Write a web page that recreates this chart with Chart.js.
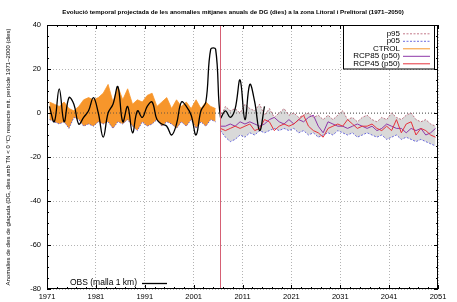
<!DOCTYPE html>
<html>
<head>
<meta charset="utf-8">
<script src="https://cdn.jsdelivr.net/npm/chart.js@4.4.1/dist/chart.umd.min.js"></script>
<style>
  html, body { margin: 0; padding: 0; background: #fff; }
  #wrap { width: 457px; height: 302px; }
</style>
</head>
<body>
<div id="wrap"><canvas id="dgChart"></canvas></div>
<script>
// Anomalies de dies de glaçada — zona Litoral i Prelitoral
const chartTitle = 'Evolució temporal projectada de les anomalies mitjanes anuals de DG (dies) a la zona Litoral i Prelitoral (1971–2050)';

const obsYears = Array.from({ length: 45 }, (_, i) => 1971 + i);   // 1971-2015
const ctrlYears = Array.from({ length: 35 }, (_, i) => 1971 + i);  // 1971-2005
const projYears = Array.from({ length: 45 }, (_, i) => 2006 + i);  // 2006-2050

const obs = [3, -4, 11, -4, 7, 4, -5, -2, 1, 7, 0, -11, 0, 4, 12, -4, 3, -9, 1, -2,
  3, 5, -3, -5, -6, -10, -5, 5, 3, -1, -10, 1, 5, 29, 29, -2, 1, -2, 2, 15, -3, 13, 5, -8, 3];

const ctrlHigh = [5, 4, 3, 5, 2, 1, 3, 6, 7, 6, 7, 9, 13, 5, 12, 6, 11, 4, 6, 5,
  8, 9, 3, 5, 7, 2, 6, 3, 5, 2, 6, 2, 5, 3, 2];
const ctrlLow = [-3, -4, -5, -4, -7, -2, -3, -6, -5, -6, -4, -5, -4, -7, -4, -5, -3, -6, -8, -4,
  -6, -5, -3, -6, -4, -5, -7, -4, -6, -3, -7, -4, -6, -3, -4];

const p95 = [-2, 3, 1, 2, 0, 4, 2, 1, 4, -1, 2, -2, 0, 2, -1, 0, -2, -1, 0, -2,
  -1, -3, -1, -3, -1, 1, -3, -2, -4, -2, -1, -3, -4, -2, -3, 0, -2, -3, -1, 0, -3, -4, -3, -5, -6];
const p05 = [-8, -11, -13, -12, -10, -11, -9, -10, -8, -9, -8, -7, -8, -7, -8, -7, -9, -8, -10, -9,
  -11, -10, -9, -10, -8, -9, -10, -9, -11, -10, -9, -10, -11, -10, -12, -11, -10, -12, -11, -12, -13, -12, -13, -14, -15];
const rcp85 = [-6, -6, -5, -6, -4, -5, -4, -5, -6, -5, -3, -2, -4, -5, -3, -5, -3, -4, -2, -1,
  -6, -9, -4, -5, -6, -6, -7, -6, -5, -6, -7, -6, -8, -7, -5, -6, -7, -7, -9, -7, -8, -7, -10, -9, -7];
const rcp45 = [-7, -8, -7, -6, -7, -6, -5, -8, -7, -3, -4, -8, -6, -5, -6, -5, -3, -1, -6, -8,
  -9, -11, -7, -6, -5, -6, -3, -5, -7, -6, -6, -5, -7, -8, -6, -8, -3, -9, -5, -4, -10, -7, -8, -10, -11];

const xTicks = [1971, 1981, 1991, 2001, 2011, 2021, 2031, 2041, 2051];
const yTicks = [40, 20, 0, -20, -40, -60, -80];
const splitYear = 2006.5;

const colors = {
  obs: '#000000', ctrl: '#f7962b', p95: '#b4566a', p05: '#4848d8',
  rcp85: '#8e37a8', rcp45: '#e6323c', band: '#d9d9d9', split: 'rgb(214, 96, 116)',
  grid: '#a0a0a0', zero: '#444444'
};

Chart.defaults.font.family = "'Liberation Sans', Arial, Helvetica, sans-serif";
Chart.defaults.color = '#000';

// mid-year placement
const pts = (years, vals) => vals.map((v, i) => ({ x: years[i] + 0.5, y: v }));

const legendRows = ['p95', 'p05', 'CTROL', 'RCP85 (p50)', 'RCP45 (p50)'];

// gnuplot-like frame, inward ticks, split line, title and legends
const gnuplotFrame = {
  id: 'gnuplotFrame',
  beforeDatasetsDraw(chart) {
    const { ctx, chartArea: a, scales: { y } } = chart;
    ctx.save();
    // zero line over fills
    ctx.strokeStyle = colors.zero;
    ctx.lineWidth = 0.8;
    ctx.setLineDash([1, 2]);
    ctx.beginPath();
    ctx.moveTo(a.left, y.getPixelForValue(0));
    ctx.lineTo(a.right, y.getPixelForValue(0));
    ctx.stroke();
    ctx.restore();
  },
  afterDatasetsDraw(chart) {
    const { ctx, chartArea: a, scales: { x, y } } = chart;
    ctx.save();

    // control / projection split
    ctx.setLineDash([]);
    ctx.strokeStyle = colors.split;
    ctx.lineWidth = 1;
    const sx = x.getPixelForValue(splitYear);
    ctx.beginPath();
    ctx.moveTo(sx, a.top);
    ctx.lineTo(sx, a.bottom);
    ctx.stroke();

    ctx.strokeStyle = '#000';
    ctx.lineWidth = 1;
    ctx.strokeRect(a.left + 0.5, a.top + 0.5, a.right - a.left - 1, a.bottom - a.top - 1);

    // ticks on all four sides, pointing in
    ctx.beginPath();
    for (let v = 1971; v <= 2051; v += 2) {
      const px = Math.round(x.getPixelForValue(v)) + 0.5;
      const len = xTicks.includes(v) ? 4 : 2;
      ctx.moveTo(px, a.bottom); ctx.lineTo(px, a.bottom - len);
      ctx.moveTo(px, a.top); ctx.lineTo(px, a.top + len);
    }
    for (let v = -80; v <= 40; v += 5) {
      const py = Math.round(y.getPixelForValue(v)) + 0.5;
      const len = yTicks.includes(v) ? 4 : 2;
      ctx.moveTo(a.left, py); ctx.lineTo(a.left + len, py);
      ctx.moveTo(a.right, py); ctx.lineTo(a.right - len, py);
    }
    ctx.stroke();

    // title
    ctx.fillStyle = '#000';
    ctx.font = "bold 6.2px 'Liberation Sans', Arial, sans-serif";
    ctx.textAlign = 'center';
    ctx.textBaseline = 'middle';
    ctx.fillText(chartTitle, 233, 12.5);

    // main legend box (top right)
    const boxL = a.right - 95, boxR = a.right - 4, boxT = a.top, rowH = 7.5;
    const boxB = boxT + 8 + rowH * legendRows.length - 2;
    ctx.fillStyle = '#fff';
    ctx.fillRect(boxL, boxT, boxR - boxL, boxB - boxT);
    ctx.strokeRect(boxL + 0.5, boxT + 0.5, boxR - boxL, boxB - boxT);
    ctx.font = "8px 'Liberation Sans', Arial, sans-serif";
    ctx.textAlign = 'right';
    legendRows.forEach((label, i) => {
      const ds = chart.data.datasets.find(d => d.label === label);
      const ry = boxT + 8.3 + i * rowH;
      ctx.fillStyle = '#000';
      ctx.fillText(label, a.right - 38, ry);
      ctx.strokeStyle = ds.legendColor || ds.borderColor;
      ctx.lineWidth = ds.legendWidth || ds.borderWidth;
      ctx.setLineDash(ds.borderDash || []);
      ctx.beginPath();
      ctx.moveTo(a.right - 35, ry + 0.5);
      ctx.lineTo(a.right - 8, ry + 0.5);
      ctx.stroke();
      ctx.setLineDash([]);
    });

    // observations legend (bottom left)
    const obsDs = chart.data.datasets[0];
    const oy = a.bottom - 6;
    ctx.font = "8.5px 'Liberation Sans', Arial, sans-serif";
    ctx.fillStyle = '#000';
    ctx.fillText(obsDs.label, a.left + 90, oy);
    ctx.strokeStyle = obsDs.borderColor;
    ctx.lineWidth = obsDs.borderWidth;
    ctx.beginPath();
    ctx.moveTo(a.left + 95, oy + 0.5);
    ctx.lineTo(a.left + 120, oy + 0.5);
    ctx.stroke();
    ctx.restore();
  }
};

new Chart(document.getElementById('dgChart'), {
  type: 'line',
  data: {
    datasets: [
      { label: 'OBS (malla 1 km)', data: pts(obsYears, obs), borderColor: colors.obs,
        borderWidth: 1.3, tension: 0.4, pointRadius: 0, fill: false },
      { label: 'RCP45 (p50)', data: pts(projYears, rcp45), borderColor: colors.rcp45,
        borderWidth: 1, pointRadius: 0, fill: false },
      { label: 'RCP85 (p50)', data: pts(projYears, rcp85), borderColor: colors.rcp85,
        borderWidth: 1, pointRadius: 0, fill: false },
      { label: 'p95', data: pts(projYears, p95), borderColor: colors.p95, borderDash: [2, 1.5],
        borderWidth: 0.8, pointRadius: 0, fill: '+1', backgroundColor: colors.band },
      { label: 'p05', data: pts(projYears, p05), borderColor: colors.p05, borderDash: [2, 1.5],
        borderWidth: 0.8, pointRadius: 0, fill: false },
      { label: 'CTROL', data: pts(ctrlYears, ctrlHigh), borderColor: colors.ctrl, legendWidth: 1,
        borderWidth: 0.8, pointRadius: 0, fill: '+1', backgroundColor: colors.ctrl },
      { label: 'CTROL p05', data: pts(ctrlYears, ctrlLow), borderColor: colors.p05, borderDash: [1.5, 1.5],
        borderWidth: 0.8, pointRadius: 0, fill: false }
    ]
  },
  options: {
    responsive: true, maintainAspectRatio: false, animation: false,
    layout: { padding: { left: 0, right: 19, top: 25, bottom: 0 } },
    plugins: {
      legend: { display: false },
      tooltip: { enabled: false },
      title: { display: false },
      filler: { drawTime: 'beforeDatasetsDraw' }
    },
    scales: {
      x: {
        type: 'linear', min: 1971, max: 2051,
        afterBuildTicks: s => { s.ticks = xTicks.map(v => ({ value: v })); },
        afterFit: s => { s.height = 13; },
        ticks: { callback: v => String(v), font: { size: 7.5 }, padding: 3, maxRotation: 0, autoSkip: false },
        grid: { color: colors.grid, lineWidth: 0.8, drawTicks: false },
        border: { display: false, dash: [1, 2] }
      },
      y: {
        min: -80, max: 40,
        afterBuildTicks: s => { s.ticks = yTicks.map(v => ({ value: v })); },
        afterFit: s => { s.width = 47; },
        ticks: { font: { size: 7.5 }, padding: 6 },
        grid: { color: colors.grid, lineWidth: 0.8, drawTicks: false },
        border: { display: false, dash: [1, 2] },
        title: {
          display: true,
          text: 'Anomalies de dies de glaçada (DG, dies amb TN < 0 °C) respecte mit. període 1971–2000 (dies)',
          font: { size: 6 },
          padding: { top: 5, bottom: 0 }
        }
      }
    }
  },
  plugins: [gnuplotFrame]
});
</script>
</body>
</html>
